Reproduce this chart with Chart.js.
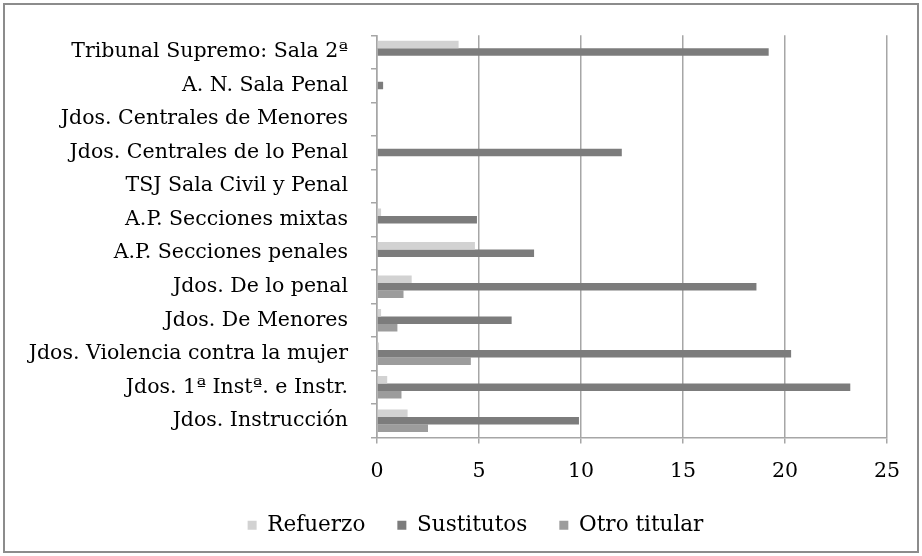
<!DOCTYPE html>
<html>
<head>
<meta charset="utf-8">
<script src="https://cdn.jsdelivr.net/npm/chart.js@4"></script>
<style>
  body { margin: 0; background: #fff; }
  #wrap { position: absolute; left: 0; top: 0; width: 922px; height: 556px; }
  #frame { position: absolute; left: 3px; top: 3px; width: 912px; height: 546px; border: 2px solid #8c8c8c; pointer-events: none; }
</style>
</head>
<body>
<div id="wrap"><canvas id="juzgadosChart" width="922" height="556"></canvas></div>
<div id="frame"></div>
<script>
// datos del grafico
const categorias = [
    'Tribunal Supremo: Sala 2ª',
    'A. N. Sala Penal',
    'Jdos. Centrales de Menores',
    'Jdos. Centrales de lo Penal',
    'TSJ Sala Civil y Penal',
    'A.P. Secciones mixtas',
    'A.P. Secciones penales',
    'Jdos. De lo penal',
    'Jdos. De Menores',
    'Jdos. Violencia contra la mujer',
    'Jdos. 1ª Instª. e Instr.',
    'Jdos. Instrucción'
];
const refuerzo    = [4.0, 0, 0, 0, 0, 0.2, 4.8, 1.7, 0.2, 0.1, 0.5, 1.5];
const sustitutos  = [19.2, 0.3, 0, 12.0, 0, 4.9, 7.7, 18.6, 6.6, 20.3, 23.2, 9.9];
const otroTitular = [0, 0, 0, 0, 0, 0, 0, 1.3, 1.0, 4.6, 1.2, 2.5];
const ticksX = [0, 5, 10, 15, 20, 25];

const fuente = { family: "'DejaVu Serif', serif", size: 20.5 };

// mueve la leyenda un poco a la derecha, como en el original
const moverLeyenda = {
    id: 'moverLeyenda',
    afterLayout(chart) {
        chart.legend.left += 32;
        chart.legend.right += 32;
    }
};

const ctx = document.getElementById('juzgadosChart').getContext('2d');

new Chart(ctx, {
    type: 'bar',
    data: {
        labels: categorias,
        datasets: [
            { label: 'Refuerzo', data: refuerzo, backgroundColor: '#d2d2d2' },
            { label: 'Sustitutos', data: sustitutos, backgroundColor: '#7c7c7c' },
            { label: 'Otro titular', data: otroTitular, backgroundColor: '#9c9c9c' }
        ]
    },
    options: {
        indexAxis: 'y',
        responsive: false,
        animation: false,
        datasets: {
            bar: { categoryPercentage: 0.67, barPercentage: 1.0 }
        },
        layout: { padding: { top: 32, right: 35, bottom: 10, left: 0 } },
        plugins: {
            tooltip: { enabled: false },
            legend: {
                position: 'bottom',
                labels: {
                    font: { family: "'DejaVu Serif', serif", size: 21.5 },
                    color: '#000',
                    boxWidth: 9,
                    boxHeight: 9,
                    padding: 32
                }
            }
        },
        scales: {
            x: {
                min: 0,
                max: 25,
                afterBuildTicks: axis => { axis.ticks = ticksX.map(v => ({ value: v })); },
                ticks: { font: fuente, color: '#000', padding: 16 },
                grid: { color: '#a6a6a6', lineWidth: 1.5, tickLength: 6, tickColor: '#a6a6a6' },
                border: { color: '#a6a6a6', width: 1.5 },
                afterFit: axis => { axis.height = 45; }
            },
            y: {
                ticks: { font: fuente, color: '#000', padding: 23 },
                grid: { offset: true, drawOnChartArea: false, tickLength: 6, color: '#a6a6a6', lineWidth: 1.5 },
                border: { color: '#a6a6a6', width: 1.5 },
                afterFit: axis => { axis.width = 377; }
            }
        }
    },
    plugins: [moverLeyenda]
});
</script>
</body>
</html>
